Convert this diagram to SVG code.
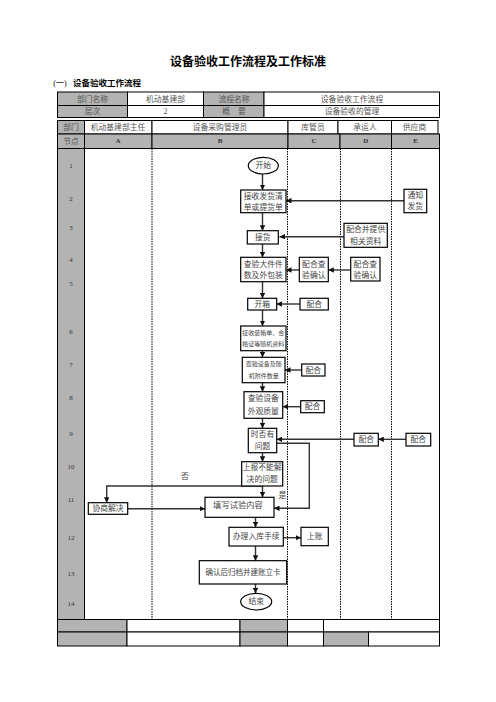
<svg xmlns="http://www.w3.org/2000/svg" width="496" height="702" viewBox="0 0 496 702">
<defs>
<marker id="ah" viewBox="0 0 6 6" refX="6" refY="3" markerWidth="5.5" markerHeight="5.5" markerUnits="userSpaceOnUse" orient="auto">
<path d="M0,0 L6,3 L0,6 z" fill="#111"/>
</marker>
</defs>
<style>
text{font-family:"Liberation Serif","Noto Sans CJK SC",serif;dominant-baseline:central;text-anchor:middle}
.g{fill:#b3b3b3;stroke:#000;stroke-width:1}
.w{fill:#fff;stroke:#000;stroke-width:1}
.h{font-size:7.8px;fill:#555}
.hb{font-size:7px;fill:#333;font-weight:bold}
.num{font-size:7px;fill:#333}
.box{fill:#fff;stroke:#000;stroke-width:1.2}
.t{font-size:7.8px;fill:#444}
.ts{font-size:6px;fill:#444}
.lane{stroke:#000;stroke-width:1;stroke-dasharray:1.5,1;fill:none}
.c{stroke:#333;stroke-width:1.4;fill:none;marker-end:url(#ah)}
</style>
<rect width="496" height="702" fill="#fff"/>
<text x="248" y="62" style="font-size:12px;font-weight:bold;fill:#000">设备验收工作流程及工作标准</text>
<text x="60" y="83" style="font-size:8px;fill:#000">(一)</text>
<text x="107" y="83" style="font-size:8.5px;font-weight:bold;fill:#000">设备验收工作流程</text>

<g id="header">
<rect class="g" x="57.5" y="92" width="70" height="13.5"/>
<rect class="w" x="127.5" y="92" width="76" height="13.5"/>
<rect class="g" x="203.5" y="92" width="60.5" height="13.5"/>
<rect class="w" x="264" y="92" width="175.5" height="13.5"/>
<rect class="g" x="57.5" y="105.5" width="70" height="12"/>
<rect class="w" x="127.5" y="105.5" width="76" height="12"/>
<rect class="g" x="203.5" y="105.5" width="60.5" height="12"/>
<rect class="w" x="264" y="105.5" width="175.5" height="12"/>
<text class="h" x="92.5" y="99">部门名称</text>
<text class="h" x="165.5" y="99">机动基建部</text>
<text class="h" x="234" y="99">流程名称</text>
<text class="h" x="352" y="99">设备验收工作流程</text>
<text class="h" x="92.5" y="111.5">层次</text>
<text class="h" x="165.5" y="111.5">2</text>
<text class="h" x="234" y="111.5">概　要</text>
<text class="h" x="352" y="111.5">设备验收的管理</text>

<rect class="g" x="57.5" y="120.5" width="27" height="13.5"/>
<rect class="w" x="84.5" y="120.5" width="67.5" height="13.5"/>
<rect class="w" x="152" y="120.5" width="136" height="13.5"/>
<rect class="w" x="288" y="120.5" width="50" height="13.5"/>
<rect class="w" x="338" y="120.5" width="53.5" height="13.5"/>
<rect class="w" x="391.5" y="120.5" width="46.5" height="13.5"/>
<text class="h" x="71" y="127.3">部门</text>
<text class="h" x="118" y="127.3">机动基建部主任</text>
<text class="h" x="220" y="127.3">设备采购管理员</text>
<text class="h" x="313" y="127.3">库管员</text>
<text class="h" x="365" y="127.3">承运人</text>
<text class="h" x="414.5" y="127.3">供应商</text>

<rect class="g" x="57.5" y="134" width="27" height="14.5"/>
<rect class="g" x="84.5" y="134" width="67.5" height="14.5"/>
<rect class="g" x="152" y="134" width="136" height="14.5"/>
<rect class="g" x="288" y="134" width="52" height="14.5"/>
<rect class="g" x="340" y="134" width="51.5" height="14.5"/>
<rect class="g" x="391.5" y="134" width="48" height="14.5"/>
<text class="h" x="71" y="141.3">节点</text>
<text class="hb" x="118" y="141.3">A</text>
<text class="hb" x="220" y="141.3">B</text>
<text class="hb" x="314" y="141.3">C</text>
<text class="hb" x="365.7" y="141.3">D</text>
<text class="hb" x="415.5" y="141.3">E</text>
</g>

<g id="body">
<rect class="w" x="57.5" y="148.5" width="382" height="471"/>
<rect class="g" x="57.5" y="148.5" width="27" height="471"/>
<line class="lane" x1="152" y1="148.5" x2="152" y2="619.5"/>
<line class="lane" x1="287.5" y1="148.5" x2="287.5" y2="619.5"/>
<line class="lane" x1="340.5" y1="148.5" x2="340.5" y2="619.5"/>
<line class="lane" x1="391.5" y1="148.5" x2="391.5" y2="619.5"/>
<text class="num" x="71" y="166">1</text>
<text class="num" x="71" y="199">2</text>
<text class="num" x="71" y="228">3</text>
<text class="num" x="71" y="260">4</text>
<text class="num" x="71" y="284">5</text>
<text class="num" x="71" y="331.5">6</text>
<text class="num" x="71" y="364.5">7</text>
<text class="num" x="71" y="398">8</text>
<text class="num" x="71" y="434">9</text>
<text class="num" x="71" y="466.5">10</text>
<text class="num" x="71" y="500">11</text>
<text class="num" x="71" y="538">12</text>
<text class="num" x="71" y="574">13</text>
<text class="num" x="71" y="604">14</text>
</g>

<g id="footer">
<rect class="g" x="57.5" y="619.5" width="69.5" height="12.5"/>
<rect class="w" x="127" y="619.5" width="113" height="12.5"/>
<rect class="g" x="240" y="619.5" width="47.5" height="12.5"/>
<rect class="w" x="287.5" y="619.5" width="36" height="12.5"/>
<rect class="w" x="323.5" y="619.5" width="116" height="12.5"/>
<rect class="g" x="57.5" y="632" width="69.5" height="14"/>
<rect class="w" x="127" y="632" width="113" height="14"/>
<rect class="g" x="240" y="632" width="47.5" height="14"/>
<rect class="w" x="287.5" y="632" width="36" height="14"/>
<rect class="g" x="323.5" y="632" width="45" height="14"/>
<rect class="w" x="368.5" y="632" width="71" height="14"/>
</g>

<g id="connectors">
<line class="c" x1="262.5" y1="174" x2="262.5" y2="190"/>
<line class="c" x1="404" y1="200.7" x2="286" y2="200.7"/>
<line class="c" x1="262.5" y1="212.7" x2="262.5" y2="230.7"/>
<line class="c" x1="344" y1="236.7" x2="279.5" y2="236.7"/>
<line class="c" x1="262.5" y1="244" x2="262.5" y2="257.3"/>
<line class="c" x1="299.3" y1="270" x2="286" y2="270"/>
<line class="c" x1="350.7" y1="270" x2="328.3" y2="270"/>
<line class="c" x1="262.5" y1="281.7" x2="262.5" y2="298.3"/>
<line class="c" x1="300" y1="304" x2="276.7" y2="304"/>
<line class="c" x1="262.5" y1="310" x2="262.5" y2="326"/>
<line class="c" x1="262.5" y1="350.7" x2="262.5" y2="357.3"/>
<line class="c" x1="301.7" y1="370" x2="285" y2="370"/>
<line class="c" x1="262.5" y1="382.7" x2="262.5" y2="391.7"/>
<line class="c" x1="300.7" y1="406.7" x2="282.7" y2="406.7"/>
<line class="c" x1="262.5" y1="418.3" x2="262.5" y2="428.3"/>
<line class="c" x1="406" y1="439.3" x2="378.3" y2="439.3"/>
<line class="c" x1="354" y1="439.3" x2="276.7" y2="439.3"/>
<polyline class="c" points="276.7,443.3 309.3,443.3 309.3,508.3 274,508.3"/>
<line class="c" x1="262.5" y1="452.7" x2="262.5" y2="461.7"/>
<line class="c" x1="262.5" y1="486" x2="262.5" y2="497.3"/>
<polyline class="c" points="262.5,486 106.7,486 106.7,502.7"/>
<line class="c" x1="127.7" y1="508.7" x2="205" y2="508.7"/>
<line class="c" x1="255.5" y1="517.3" x2="255.5" y2="527.3"/>
<line class="c" x1="283.3" y1="537.7" x2="301" y2="537.7"/>
<line class="c" x1="255.5" y1="546" x2="255.5" y2="560.7"/>
<line class="c" x1="255.5" y1="584" x2="255.5" y2="593.3"/>
<text class="t" x="185" y="476.7">否</text>
<text class="t" x="282.5" y="495.5">是</text>
</g>

<g id="start"><ellipse class="box" cx="263.3" cy="165.7" rx="15" ry="8.3"/><text class="t" x="263.3" y="165.7">开始</text></g>
<g id="n2"><rect class="box" x="240.7" y="190" width="45.3" height="22.7"/><text class="t" x="263.3" y="196.3">接收发货清</text><text class="t" x="263.3" y="207.3">单或提货单</text></g>
<g id="n2e"><rect class="box" x="404" y="189.3" width="22.7" height="23.4"/><text class="t" x="415.3" y="195.5">通知</text><text class="t" x="415.3" y="206.7">发货</text></g>
<g id="n3"><rect class="box" x="247.3" y="230.7" width="31" height="13.3"/><text class="t" x="262.8" y="237.3">接货</text></g>
<g id="n3d"><rect class="box" x="344" y="223.3" width="43.3" height="24"/><text class="t" x="365.7" y="229.5">配合并提供</text><text class="t" x="365.7" y="241">相关资料</text></g>
<g id="n4"><rect class="box" x="240.7" y="257.3" width="45.3" height="24.4"/><text class="t" x="263.3" y="264">查验大件件</text><text class="t" x="263.3" y="275.5">数及外包装</text></g>
<g id="n4c"><rect class="box" x="299.3" y="257.3" width="29" height="24.4"/><text class="t" x="313.8" y="264">配合查</text><text class="t" x="313.8" y="275.5">验确认</text></g>
<g id="n4d"><rect class="box" x="350.7" y="257.3" width="29.3" height="23.7"/><text class="t" x="365.3" y="264">配合查</text><text class="t" x="365.3" y="275.3">验确认</text></g>
<g id="n5"><rect class="box" x="247.7" y="298.3" width="29" height="11.7"/><text class="t" x="262.2" y="304.2">开箱</text></g>
<g id="n5c"><rect class="box" x="300" y="298.3" width="28.3" height="11.7"/><text class="t" x="314.2" y="304.2">配合</text></g>
<g id="n6"><rect class="box" x="240.7" y="326" width="45.3" height="24.7"/><text class="ts" x="263.3" y="332.5">接收装箱单、合</text><text class="ts" x="263.3" y="344.3">格证等随机资料</text></g>
<g id="n7"><rect class="box" x="242.3" y="357.3" width="42.7" height="25.4"/><text class="ts" x="263.7" y="364">查验设备及随</text><text class="ts" x="263.7" y="376">机附件数量</text></g>
<g id="n7c"><rect class="box" x="301.7" y="364" width="23.3" height="12"/><text class="t" x="313.3" y="370">配合</text></g>
<g id="n8"><rect class="box" x="244" y="391.7" width="38.7" height="26.6"/><text class="t" x="263.3" y="398.5">查验设备</text><text class="t" x="263.3" y="411">外观质量</text></g>
<g id="n8c"><rect class="box" x="300.7" y="400.7" width="23.6" height="12"/><text class="t" x="312.5" y="406.7">配合</text></g>
<g id="n9"><rect class="box" x="248.3" y="428.3" width="28.4" height="24.4"/><text class="t" x="262.5" y="434.5">时否有</text><text class="t" x="262.5" y="446.5">问题</text></g>
<g id="n9d"><rect class="box" x="354" y="433.3" width="24.3" height="12.7"/><text class="t" x="366.2" y="439.7">配合</text></g>
<g id="n9e"><rect class="box" x="406" y="433.3" width="24.7" height="12.7"/><text class="t" x="418.3" y="439.7">配合</text></g>
<g id="n10"><rect class="box" x="241.7" y="461.7" width="41" height="24.3"/><text class="t" x="262.2" y="467.8">上报不能解</text><text class="t" x="262.2" y="479.8">决的问题</text></g>
<g id="n11a"><rect class="box" x="88.3" y="502.7" width="39.4" height="11.6"/><text class="t" x="108" y="508.5">协商解决</text></g>
<g id="n11"><rect class="box" x="205" y="497.3" width="69" height="20"/><text class="t" x="238" y="505.7" style="font-size:8.3px">填写试验内容</text></g>
<g id="n12"><rect class="box" x="229" y="527.3" width="54.3" height="18.7"/><text class="t" x="256.2" y="536.5">办理入库手续</text></g>
<g id="n12c"><rect class="box" x="301" y="527.3" width="27.3" height="18.4"/><text class="t" x="314.7" y="536.5">上账</text></g>
<g id="n13"><rect class="box" x="199.3" y="560.7" width="87.4" height="23.3"/><text class="t" x="243" y="572.3" style="font-size:7.5px">确认后归档并建账立卡</text></g>
<g id="end"><ellipse class="box" cx="256.2" cy="601.7" rx="15.5" ry="8.3"/><text class="t" x="256.2" y="601.7">结束</text></g>
</svg>
